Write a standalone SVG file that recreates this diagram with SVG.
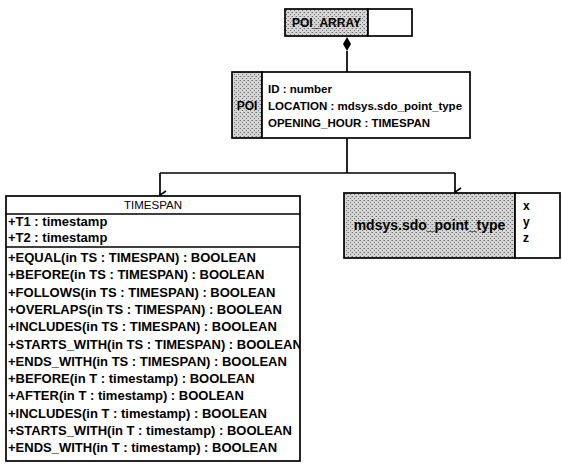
<svg xmlns="http://www.w3.org/2000/svg" width="562" height="466" viewBox="0 0 562 466">
<style>
.t{font-family:"Liberation Sans",Arial,sans-serif;font-weight:bold;font-size:12px;fill:#000}
.m{font-size:13px}
.a{font-size:11.5px}
.b{stroke:#000;stroke-width:1.7}
.sh{fill:url(#dither)}
.w{fill:#fff}
.c{fill:none;stroke:#000;stroke-width:1.7}
</style>
<defs>
<pattern id="dither" width="4" height="4" patternUnits="userSpaceOnUse">
<rect width="4" height="4" fill="#d6d6d6"/>
<rect x="0" y="0" width="1" height="1" fill="#6e6e6e"/>
<rect x="2" y="2" width="1" height="1" fill="#6e6e6e"/>
<rect x="3" y="0" width="1" height="1" fill="#a8a8a8"/>
</pattern>
<marker id="arr" markerWidth="10" markerHeight="10" refX="5" refY="9" orient="auto" markerUnits="userSpaceOnUse" viewBox="0 0 10 10">
<path d="M1,3 L5,9 L9,3" fill="none" stroke="#000" stroke-width="1.6"/>
</marker>
<clipPath id="tsclip"><rect x="6" y="196" width="294" height="266"/></clipPath>
</defs>
<rect width="562" height="466" fill="#fff"/>
<g id="connectors">
<polygon points="347,37 351,44 347,51 343,44" fill="#000"/>
<line class="c" x1="347" y1="51" x2="347" y2="72"/>
<line class="c" x1="347" y1="138" x2="347" y2="173"/>
<line class="c" x1="160" y1="173" x2="455" y2="173"/>
<line class="c" x1="160" y1="173" x2="160" y2="195" marker-end="url(#arr)"/>
<line class="c" x1="455" y1="173" x2="455" y2="192" marker-end="url(#arr)"/>
</g>
<g id="poi_array">
<rect class="b sh" x="285" y="9" width="83" height="27"/>
<rect class="b w" x="368" y="9" width="44" height="27"/>
<text class="t" x="326.5" y="27" text-anchor="middle">POI_ARRAY</text>
</g>
<g id="poi">
<rect class="b sh" x="232" y="72" width="30" height="66"/>
<rect class="b w" x="262" y="72" width="208" height="66"/>
<text class="t" x="247" y="110" text-anchor="middle">POI</text>
<text class="t a" x="268" y="93">ID : number</text>
<text class="t a" x="268" y="110">LOCATION : mdsys.sdo_point_type</text>
<text class="t a" x="268" y="127">OPENING_HOUR : TIMESPAN</text>
</g>
<g id="timespan">
<rect class="b w" x="6" y="196" width="294" height="265"/>
<line class="b" x1="6" y1="214" x2="300" y2="214"/>
<line class="b" x1="6" y1="247" x2="300" y2="247"/>
<text class="t" x="153" y="209" text-anchor="middle" style="font-weight:normal;font-size:11.5px">TIMESPAN</text>
<g clip-path="url(#tsclip)">
<text class="t m" x="8" y="226">+T1 : timestamp</text>
<text class="t m" x="8" y="242">+T2 : timestamp</text>
<text class="t m" x="8" y="262">+EQUAL(in TS : TIMESPAN) : BOOLEAN</text>
<text class="t m" x="8" y="279.3">+BEFORE(in TS : TIMESPAN) : BOOLEAN</text>
<text class="t m" x="8" y="296.6">+FOLLOWS(in TS : TIMESPAN) : BOOLEAN</text>
<text class="t m" x="8" y="313.9">+OVERLAPS(in TS : TIMESPAN) : BOOLEAN</text>
<text class="t m" x="8" y="331.2">+INCLUDES(in TS : TIMESPAN) : BOOLEAN</text>
<text class="t m" x="8" y="348.5">+STARTS_WITH(in TS : TIMESPAN) : BOOLEAN</text>
<text class="t m" x="8" y="365.8">+ENDS_WITH(in TS : TIMESPAN) : BOOLEAN</text>
<text class="t m" x="8" y="383.1">+BEFORE(in T : timestamp) : BOOLEAN</text>
<text class="t m" x="8" y="400.4">+AFTER(in T : timestamp) : BOOLEAN</text>
<text class="t m" x="8" y="417.7">+INCLUDES(in T : timestamp) : BOOLEAN</text>
<text class="t m" x="8" y="435">+STARTS_WITH(in T : timestamp) : BOOLEAN</text>
<text class="t m" x="8" y="452.3">+ENDS_WITH(in T : timestamp) : BOOLEAN</text>
</g>
</g>
<g id="sdo_point_type">
<rect class="b sh" x="344" y="193" width="171" height="65"/>
<rect class="b w" x="515" y="193" width="45" height="65"/>
<text class="t" x="429.5" y="230" text-anchor="middle" style="font-size:14px">mdsys.sdo_point_type</text>
<text class="t" x="523" y="210">x</text>
<text class="t" x="523" y="226">y</text>
<text class="t" x="523" y="242">z</text>
</g>
</svg>
